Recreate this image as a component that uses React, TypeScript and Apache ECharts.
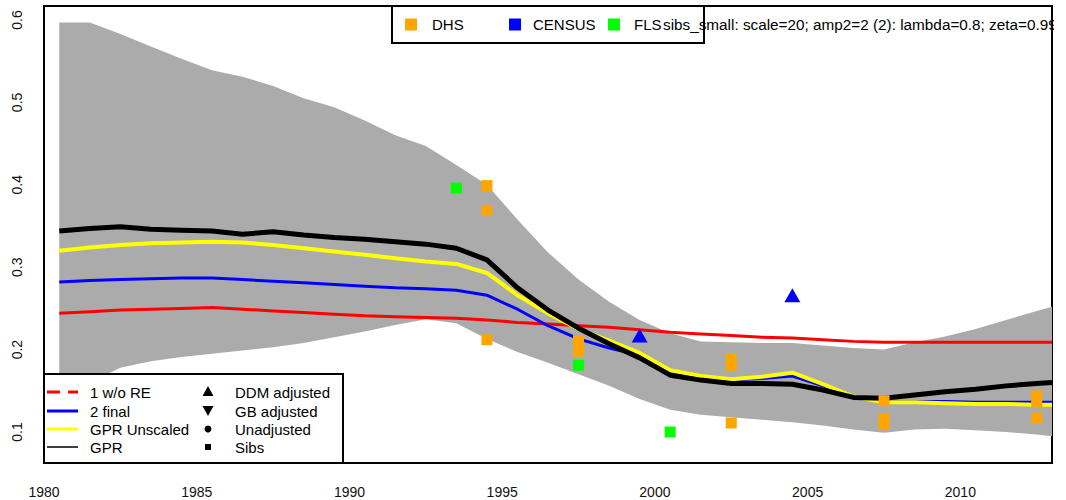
import React, { useEffect, useRef } from "react";
import * as echarts from "echarts";

const FONT = "'Liberation Sans', Arial, Helvetica, sans-serif";

const YEARS = [
  1980.5, 1981.5, 1982.5, 1983.5, 1984.5, 1985.5, 1986.5, 1987.5, 1988.5, 1989.5,
  1990.5, 1991.5, 1992.5, 1993.5, 1994.5, 1995.5, 1996.5, 1997.5, 1998.5, 1999.5,
  2000.5, 2001.5, 2002.5, 2003.5, 2004.5, 2005.5, 2006.5, 2007.5, 2008.5, 2009.5,
  2010.5, 2011.5, 2012.5, 2013,
];

const BAND_HI = [
  0.597, 0.597, 0.583, 0.568, 0.553, 0.539, 0.531, 0.52, 0.505, 0.494,
  0.478, 0.46, 0.447, 0.424, 0.4, 0.358, 0.318, 0.285, 0.258, 0.236,
  0.22, 0.21, 0.209, 0.208, 0.208, 0.205, 0.202, 0.2, 0.209, 0.216,
  0.225, 0.236, 0.247, 0.252,
];

const BAND_LO = [
  0.145, 0.16, 0.178, 0.186, 0.191, 0.195, 0.199, 0.203, 0.208, 0.215,
  0.222, 0.23, 0.237, 0.232, 0.213, 0.197, 0.184, 0.17, 0.156, 0.14,
  0.127, 0.121, 0.118, 0.115, 0.112, 0.108, 0.103, 0.099, 0.103, 0.104,
  0.102, 0.1, 0.097, 0.095,
];

const RED_NORE = [
  0.244, 0.246, 0.248, 0.249, 0.25, 0.251, 0.249, 0.247, 0.245, 0.243,
  0.241, 0.24, 0.239, 0.238, 0.236, 0.233, 0.231, 0.229, 0.227, 0.224,
  0.221, 0.219, 0.217, 0.215, 0.214, 0.212, 0.21, 0.209, 0.209, 0.209,
  0.209, 0.209, 0.209, 0.209,
];

const BLUE_FINAL = [
  0.282, 0.284, 0.285, 0.286, 0.287, 0.287, 0.285, 0.283, 0.281, 0.279,
  0.277, 0.275, 0.274, 0.272, 0.266, 0.249, 0.229, 0.213, 0.202, 0.193,
  0.173, 0.167, 0.163, 0.165, 0.168, 0.156, 0.143, 0.137, 0.137, 0.137,
  0.136, 0.136, 0.136, 0.136,
];

const YELLOW_UNSCALED = [
  0.32, 0.324, 0.327, 0.329, 0.33, 0.331, 0.33, 0.327, 0.323, 0.319,
  0.315, 0.311, 0.307, 0.304, 0.293, 0.266, 0.244, 0.225, 0.211, 0.196,
  0.175, 0.168, 0.164, 0.167, 0.172, 0.158, 0.143, 0.136, 0.136, 0.135,
  0.134, 0.134, 0.133, 0.133,
];

const BLACK_GPR = [
  0.344, 0.347, 0.349, 0.346, 0.345, 0.344, 0.34, 0.343, 0.339, 0.336,
  0.334, 0.331, 0.328, 0.323, 0.309, 0.275, 0.248, 0.226, 0.207, 0.19,
  0.169, 0.163, 0.159, 0.159, 0.158, 0.151, 0.142, 0.141, 0.145, 0.149,
  0.152, 0.156, 0.159, 0.16,
];

const DHS_YEARS = [1994.5, 1994.5, 1994.5, 1997.5, 1997.5, 2002.5, 2002.5, 2002.5, 2007.5, 2007.5, 2007.5, 2012.5, 2012.5, 2012.5];
const DHS_VALUES = [0.399, 0.369, 0.212, 0.211, 0.198, 0.188, 0.181, 0.111, 0.138, 0.116, 0.109, 0.144, 0.137, 0.117];

const CENSUS_YEARS = [1999.5, 2004.5];
const CENSUS_VALUES = [0.217, 0.266];

const FLS_YEARS = [1993.5, 1997.5, 2000.5];
const FLS_VALUES = [0.396, 0.181, 0.1];

const X_TICKS = [1980, 1985, 1990, 1995, 2000, 2005, 2010];
const Y_TICKS = [0.1, 0.2, 0.3, 0.4, 0.5, 0.6];

const TITLE_TEXT = "sibs_small: scale=20; amp2=2 (2): lambda=0.8; zeta=0.99";

export default function App() {
  const ref = useRef<HTMLDivElement>(null);

  useEffect(() => {
    if (!ref.current) return;
    const chart = echarts.init(ref.current, null, { renderer: "svg" });

    const pair = (xs: number[], ys: number[]) => xs.map((x, i) => [x, ys[i]]);

    const bandData = YEARS.map((y, i) => [y, BAND_LO[i], BAND_HI[i]]);

    const legendText = (x: number, y: number, text: string, size = 15) => ({
      type: "text",
      x,
      y,
      z: 101,
      silent: true,
      style: {
        text,
        fill: "#000",
        font: `${size}px ${FONT}`,
        textVerticalAlign: "middle",
        verticalAlign: "middle",
        align: "left",
      },
    });

    const option: any = {
      animation: false,
      backgroundColor: "#fff",
      grid: {
        left: 44,
        right: 14,
        top: 6,
        bottom: 37,
        show: true,
        borderColor: "#000",
        borderWidth: 2,
        backgroundColor: "transparent",
      },
      xAxis: {
        type: "value",
        min: 1980,
        max: 2013,
        interval: 5,
        axisLine: { show: false },
        axisTick: { show: false },
        splitLine: { show: false },
        axisLabel: {
          showMaxLabel: false,
          fontFamily: FONT,
          fontSize: 14,
          color: "#111",
          margin: 22,
          formatter: (v: number) => (X_TICKS.indexOf(v) >= 0 ? String(v) : ""),
        },
      },
      yAxis: {
        type: "value",
        min: 0.0624,
        max: 0.617,
        axisLine: { show: false },
        axisTick: { show: false },
        splitLine: { show: false },
        axisLabel: {
          customValues: Y_TICKS,
          rotate: 90,
          fontFamily: FONT,
          fontSize: 14,
          color: "#111",
          margin: 20,
          formatter: (v: number) => v.toFixed(1),
        },
      },
      series: [
        {
          type: "custom",
          name: "band",
          silent: true,
          z: 1,
          data: bandData,
          encode: { x: 0, y: [1, 2] },
          renderItem: (params: any, api: any) => {
            if (params.dataIndex !== 0) return null;
            const pts: number[][] = [];
            for (let i = 0; i < YEARS.length; i++) pts.push(api.coord([YEARS[i], BAND_HI[i]]));
            for (let i = YEARS.length - 1; i >= 0; i--) pts.push(api.coord([YEARS[i], BAND_LO[i]]));
            return {
              type: "polygon",
              shape: { points: pts },
              style: { fill: "#ABABAB", stroke: "none" },
            };
          },
        },
        {
          type: "line",
          name: "1 w/o RE",
          data: pair(YEARS, RED_NORE),
          showSymbol: false,
          silent: true,
          z: 2,
          lineStyle: { color: "#FF0000", width: 3 },
        },
        {
          type: "line",
          name: "2 final",
          data: pair(YEARS, BLUE_FINAL),
          showSymbol: false,
          silent: true,
          z: 2,
          lineStyle: { color: "#0000FF", width: 3 },
        },
        {
          type: "line",
          name: "GPR Unscaled",
          data: pair(YEARS, YELLOW_UNSCALED),
          showSymbol: false,
          silent: true,
          z: 2,
          lineStyle: { color: "#FFFF00", width: 4 },
        },
        {
          type: "line",
          name: "GPR",
          data: pair(YEARS, BLACK_GPR),
          showSymbol: false,
          silent: true,
          z: 2,
          lineStyle: { color: "#000000", width: 5 },
        },
        {
          type: "scatter",
          name: "DHS",
          data: pair(DHS_YEARS, DHS_VALUES),
          symbol: "rect",
          symbolSize: 11,
          silent: true,
          z: 5,
          itemStyle: { color: "#FFA500", opacity: 1 },
        },
        {
          type: "scatter",
          name: "CENSUS",
          data: pair(CENSUS_YEARS, CENSUS_VALUES),
          symbol: "triangle",
          symbolSize: [16, 14],
          silent: true,
          z: 5,
          itemStyle: { color: "#0000FF", opacity: 1 },
        },
        {
          type: "scatter",
          name: "FLS",
          data: pair(FLS_YEARS, FLS_VALUES),
          symbol: "rect",
          symbolSize: 11,
          silent: true,
          z: 5,
          itemStyle: { color: "#00FF00", opacity: 1 },
        },
      ],
      graphic: [
        {
          type: "rect",
          z: 100,
          silent: true,
          shape: { x: 392, y: 6, width: 312, height: 37 },
          style: { fill: "#fff", stroke: "#000", lineWidth: 2 },
        },
        { type: "rect", z: 101, silent: true, shape: { x: 405, y: 18.5, width: 12, height: 12 }, style: { fill: "#FFA500" } },
        legendText(432, 24.5, "DHS"),
        { type: "rect", z: 101, silent: true, shape: { x: 509, y: 18.5, width: 12, height: 12 }, style: { fill: "#0000FF" } },
        legendText(533, 24.5, "CENSUS"),
        { type: "rect", z: 101, silent: true, shape: { x: 608, y: 18.5, width: 12, height: 12 }, style: { fill: "#00FF00" } },
        legendText(634, 24.5, "FLS"),
        legendText(663, 24.5, TITLE_TEXT, 15.3),
        {
          type: "rect",
          z: 102,
          silent: true,
          shape: { x: 1054, y: 0, width: 20, height: 60 },
          style: { fill: "#fff" },
        },
        {
          type: "rect",
          z: 100,
          silent: true,
          shape: { x: 44, y: 374, width: 299, height: 89 },
          style: { fill: "#fff", stroke: "#000", lineWidth: 2 },
        },
        { type: "line", z: 101, silent: true, shape: { x1: 47, y1: 392, x2: 78, y2: 392 }, style: { stroke: "#FF0000", lineWidth: 3, lineDash: [13, 8] } },
        { type: "line", z: 101, silent: true, shape: { x1: 47, y1: 411, x2: 78, y2: 411 }, style: { stroke: "#0000FF", lineWidth: 3 } },
        { type: "line", z: 101, silent: true, shape: { x1: 47, y1: 429, x2: 78, y2: 429 }, style: { stroke: "#FFFF00", lineWidth: 3 } },
        { type: "line", z: 101, silent: true, shape: { x1: 47, y1: 447, x2: 78, y2: 447 }, style: { stroke: "#000000", lineWidth: 1.5 } },
        legendText(90, 392, "1 w/o RE"),
        legendText(90, 411, "2 final"),
        legendText(90, 429, "GPR Unscaled"),
        legendText(90, 447, "GPR"),
        {
          type: "polygon",
          z: 101,
          silent: true,
          shape: { points: [[208, 386], [213.5, 396], [202.5, 396]] },
          style: { fill: "#000" },
        },
        {
          type: "polygon",
          z: 101,
          silent: true,
          shape: { points: [[202.5, 406], [213.5, 406], [208, 416]] },
          style: { fill: "#000" },
        },
        { type: "circle", z: 101, silent: true, shape: { cx: 208, cy: 429, r: 3.5 }, style: { fill: "#000" } },
        { type: "rect", z: 101, silent: true, shape: { x: 205, y: 444, width: 6, height: 6 }, style: { fill: "#000" } },
        legendText(235, 392, "DDM adjusted"),
        legendText(235, 411, "GB adjusted"),
        legendText(235, 429, "Unadjusted"),
        legendText(235, 447, "Sibs"),
      ],
    };

    chart.setOption(option);
    return () => chart.dispose();
  }, []);

  return (
    <div
      ref={ref}
      style={{ position: "absolute", left: 0, top: 0, width: 1066, height: 500, background: "#fff" }}
    />
  );
}
